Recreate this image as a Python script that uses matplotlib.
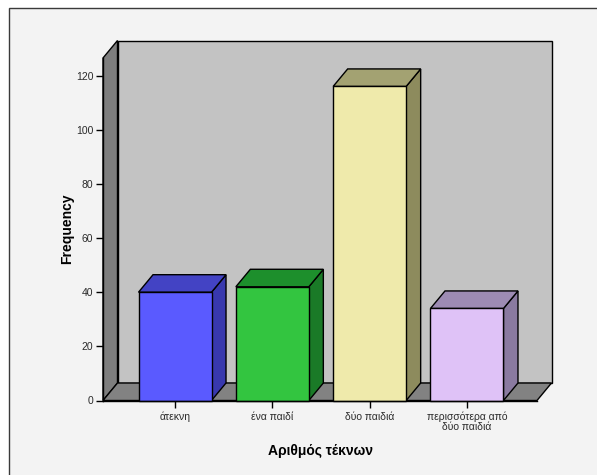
import matplotlib
matplotlib.use("Agg")
import matplotlib.pyplot as plt
from matplotlib.patches import Polygon, Rectangle

categories = ["άτεκνη", "ένα παιδί", "δύο παιδιά", "περισσότερα από\nδύο παιδιά"]
frequencies = [40, 42, 116, 34]
y_ticks = [0, 20, 40, 60, 80, 100, 120]

front_colors = ["#5a5aff", "#33c540", "#efeaab", "#dfc2f7"]
top_colors = ["#4343c4", "#1d8f2c", "#a3a272", "#9d8bb3"]
side_colors = ["#3838ae", "#1a7a27", "#8d8b5d", "#8a7aa0"]

plt.rcParams["font.family"] = ["Liberation Sans", "DejaVu Sans"]

W, H = 597, 475
fig = plt.figure(figsize=(W / 100, H / 100), dpi=100, facecolor="white")

# outer chart frame
fig.patches.append(Rectangle((9 / W, -0.02), 1.05, 1 - 8 / H + 0.02,
                             transform=fig.transFigure, facecolor="#f3f3f3",
                             edgecolor="#3a3a3a", linewidth=1.0, zorder=-10))

# plot area (front plane of the 3D box)
px_left, px_right, px_bottom, px_top = 103, 537, 400.5, 58
ax = fig.add_axes([px_left / W, (H - px_bottom) / H,
                   (px_right - px_left) / W, (px_bottom - px_top) / H])
ax.patch.set_visible(False)

n = len(categories)
spacing_px = 97.3
x0 = -(175 - px_left) / spacing_px
x1 = (n - 1) + (px_right - 467) / spacing_px
ymax = 126.5
ax.set_xlim(x0, x1)
ax.set_ylim(0, ymax)

units_x = spacing_px
units_y = (px_bottom - px_top) / ymax
ddx = 14.5 / units_x
ddy = 17.5 / units_y

edge = dict(edgecolor="black", linewidth=1.0, clip_on=False)

# back wall
ax.add_patch(Rectangle((x0 + ddx, ddy), x1 - x0, ymax, facecolor="#c3c3c3",
                       zorder=1, **edge))
# left wall
ax.add_patch(Polygon([(x0, 0), (x0 + ddx, ddy), (x0 + ddx, ymax + ddy), (x0, ymax)],
                     closed=True, facecolor="#7e7e7e", zorder=2, **edge))
# floor
ax.add_patch(Polygon([(x0, 0), (x1, 0), (x1 + ddx, ddy), (x0 + ddx, ddy)],
                     closed=True, facecolor="#828282", zorder=2, **edge))

bw = 0.75
for i, v in enumerate(frequencies):
    l, r = i - bw / 2, i + bw / 2
    ax.add_patch(Polygon([(r, 0), (r + ddx, ddy), (r + ddx, v + ddy), (r, v)],
                         closed=True, facecolor=side_colors[i], zorder=3, **edge))
    ax.add_patch(Polygon([(l, v), (r, v), (r + ddx, v + ddy), (l + ddx, v + ddy)],
                         closed=True, facecolor=top_colors[i], zorder=3, **edge))
    ax.add_patch(Rectangle((l, 0), bw, v, facecolor=front_colors[i], zorder=4, **edge))

for s in ["top", "right"]:
    ax.spines[s].set_visible(False)
for s in ["left", "bottom"]:
    ax.spines[s].set_linewidth(1.0)
    ax.spines[s].set_zorder(5)

ax.set_yticks(y_ticks)
ax.set_yticklabels([str(t) for t in y_ticks])
ax.set_xticks(range(n))
ax.set_xticklabels(categories, linespacing=0.95)
ax.tick_params(axis="both", direction="out", length=5, width=1, labelsize=7.5,
               color="black", labelcolor="#2a2a2a", pad=2)
ax.tick_params(axis="x", pad=3)

ax.set_ylabel("Frequency", fontsize=10, fontweight="bold", labelpad=1)
ax.set_xlabel("Αριθμός τέκνων", fontsize=10, fontweight="bold", labelpad=9)

fig.savefig("out.png", dpi=100, facecolor=fig.get_facecolor())
